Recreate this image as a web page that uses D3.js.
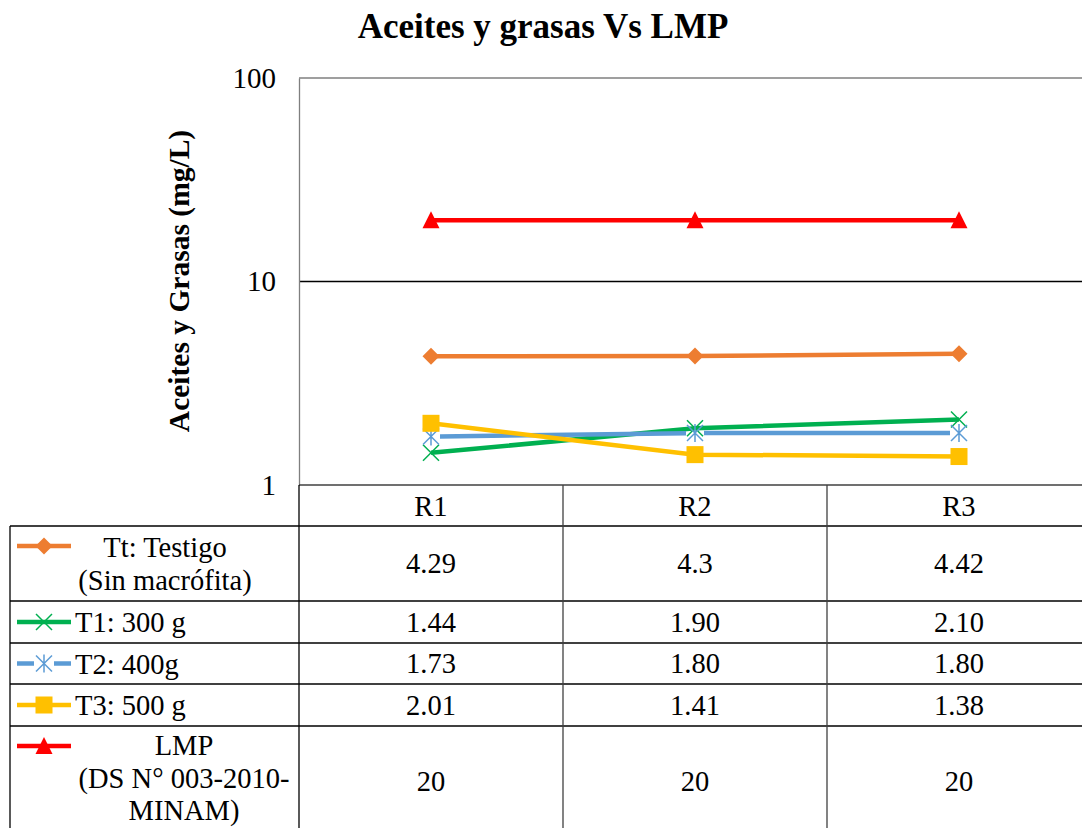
<!DOCTYPE html>
<html>
<head>
<meta charset="utf-8">
<script src="https://cdn.jsdelivr.net/npm/d3@7"></script>
<style>
  body { margin: 0; background: #fff; }
  svg { display: block; }
</style>
</head>
<body>
<svg id="chart"></svg>
<script>
// data
const categories = ['R1', 'R2', 'R3'];
const seriesNames = ['Tt', 'T1', 'T2', 'T3', 'LMP'];
const ttValues = [4.29, 4.3, 4.42];
const t1Values = [1.44, 1.90, 2.10];
const t2Values = [1.73, 1.80, 1.80];
const t3Values = [2.01, 1.41, 1.38];
const lmpValues = [20, 20, 20];
const yTicks = [1, 10, 100];

const legendLines = {
    Tt: ['Tt: Testigo', '(Sin macrófita)'],
    T1: ['T1: 300 g'],
    T2: ['T2: 400g'],
    T3: ['T3: 500 g'],
    LMP: ['LMP', '(DS N° 003-2010-', 'MINAM)']
};

const series = [
    {name: 'Tt', values: ttValues, color: '#ED7D31', marker: 'diamond', fixed: false},
    {name: 'T1', values: t1Values, color: '#00B050', marker: 'x', fixed: true},
    {name: 'T2', values: t2Values, color: '#5B9BD5', marker: 'star', fixed: true},
    {name: 'T3', values: t3Values, color: '#FFC000', marker: 'square', fixed: true},
    {name: 'LMP', values: lmpValues, color: '#FF0000', marker: 'triangle', fixed: false}
];

const FONT = '"Liberation Serif", "Times New Roman", serif';
const width = 1082, height = 828;
const plot = {left: 299, right: 1091, top: 78, bottom: 485};

const svg = d3.select('#chart').attr('width', width).attr('height', height)
    .attr('font-family', FONT);

const xscale = d3.scaleBand().domain(categories).range([plot.left, plot.right]);
const yscale = d3.scaleLog().domain([1, 100]).range([plot.bottom, plot.top]);
const cx = c => xscale(c) + xscale.bandwidth() / 2;

// title
svg.append('text')
    .attr('x', 543).attr('y', 38)
    .attr('text-anchor', 'middle')
    .attr('font-family', FONT).attr('font-size', 35).attr('font-weight', 'bold')
    .text('Aceites y grasas Vs LMP');

// y axis title
svg.append('text')
    .attr('transform', 'translate(189, 281) rotate(-90)')
    .attr('text-anchor', 'middle')
    .attr('font-family', FONT).attr('font-size', 29.5).attr('font-weight', 'bold')
    .text('Aceites y Grasas (mg/L)');

// plot frame + gridline
svg.append('line')
    .attr('x1', plot.left).attr('x2', plot.right)
    .attr('y1', yscale(100)).attr('y2', yscale(100))
    .attr('stroke', '#7f7f7f').attr('stroke-width', 1.3);
svg.append('line')
    .attr('x1', plot.left).attr('x2', plot.right)
    .attr('y1', yscale(10)).attr('y2', yscale(10))
    .attr('stroke', '#000').attr('stroke-width', 1.3);

const yaxis = d3.axisLeft(yscale).tickValues(yTicks).tickSize(0).tickPadding(23)
    .tickFormat(d3.format('d'));
const yaxisGroup = svg.append('g')
    .attr('transform', `translate(${plot.left}, 0)`)
    .call(yaxis);
yaxisGroup.attr('font-family', FONT).attr('font-size', 29);
yaxisGroup.select('.domain').attr('stroke', '#7f7f7f').attr('stroke-width', 1.3);
yaxisGroup.selectAll('text').attr('fill', '#000');

// markers
function drawMarker(g, type, color, x, y) {
    if (type === 'diamond') {
        g.append('path')
            .attr('d', `M${x},${y - 8.5}L${x + 8.5},${y}L${x},${y + 8.5}L${x - 8.5},${y}Z`)
            .attr('fill', color);
    } else if (type === 'square') {
        g.append('rect')
            .attr('x', x - 8.5).attr('y', y - 8.5).attr('width', 17).attr('height', 17)
            .attr('fill', color);
    } else if (type === 'triangle') {
        g.append('path')
            .attr('d', `M${x},${y - 9}L${x + 8.5},${y + 8}L${x - 8.5},${y + 8}Z`)
            .attr('fill', color);
    } else {
        const s = 8;
        const p = `M${x - s},${y - s}L${x + s},${y + s}M${x - s},${y + s}L${x + s},${y - s}` +
            (type === 'star' ? `M${x},${y - s - 1}L${x},${y + s + 1}` : '');
        g.append('path').attr('d', p)
            .attr('stroke', color).attr('stroke-width', 1.5).attr('fill', 'none');
    }
}

const line = d3.line()
    .x((d, i) => cx(categories[i]))
    .y(d => yscale(d));

series.forEach(s => {
    const g = svg.append('g');
    if (s.marker === 'star') {
        // line stops short of the thin asterisk markers
        const pts = s.values.map((v, i) => [cx(categories[i]), yscale(v)]);
        d3.pairs(pts).forEach(([a, b]) => {
            const dx = b[0] - a[0], dy = b[1] - a[1];
            const len = Math.hypot(dx, dy), gap = 9;
            g.append('line')
                .attr('x1', a[0] + dx / len * gap).attr('y1', a[1] + dy / len * gap)
                .attr('x2', b[0] - dx / len * gap).attr('y2', b[1] - dy / len * gap)
                .attr('stroke', s.color).attr('stroke-width', 4.5);
        });
    } else {
        g.append('path')
            .datum(s.values)
            .attr('d', line)
            .attr('fill', 'none')
            .attr('stroke', s.color)
            .attr('stroke-width', 4.5);
    }
    s.values.forEach((v, i) => {
        drawMarker(g, s.marker, s.color, cx(categories[i]), yscale(v));
    });
});

// data table
const tableLeft = 10;
const rowEdges = [485, 526, 601, 643, 684, 726, 836];
const table = svg.append('g').attr('font-family', FONT).attr('font-size', 28.5);

// horizontal lines
rowEdges.slice(0, -1).forEach((y, i) => {
    table.append('line')
        .attr('x1', i === 0 ? plot.left : tableLeft).attr('x2', plot.right)
        .attr('y1', y).attr('y2', y)
        .attr('stroke', i === 0 ? '#404040' : '#000').attr('stroke-width', 1.3);
});
// vertical lines
table.append('line')
    .attr('x1', tableLeft).attr('x2', tableLeft)
    .attr('y1', rowEdges[1]).attr('y2', height)
    .attr('stroke', '#000').attr('stroke-width', 1.3);
[plot.left, ...categories.slice(1).map(c => xscale(c))].forEach((x, i) => {
    table.append('line')
        .attr('x1', x).attr('x2', x)
        .attr('y1', rowEdges[0]).attr('y2', height)
        .attr('stroke', i === 0 ? '#000' : '#404040').attr('stroke-width', 1.3);
});

// header
categories.forEach(c => {
    table.append('text')
        .attr('x', cx(c))
        .attr('y', (rowEdges[0] + rowEdges[1]) / 2 + 10)
        .attr('text-anchor', 'middle')
        .text(c);
});

// legend column text placement (center x per row)
const legendCenters = {Tt: 165, LMP: 184};
const firstBaseline = {Tt: 557, LMP: 755};
const keyY = {Tt: 546, LMP: 746};
const lineGap = 32.5;

series.forEach((s, r) => {
    const top = rowEdges[r + 1], bottom = rowEdges[r + 2];
    const mid = (top + bottom) / 2;
    const lines = legendLines[s.name];

    // legend key
    const ky = lines.length > 1 ? keyY[s.name] : mid;
    const kg = table.append('g');
    kg.append('line')
        .attr('x1', 17).attr('x2', 71).attr('y1', ky).attr('y2', ky)
        .attr('stroke', s.color).attr('stroke-width', 4.5);
    if (s.marker === 'star') {
        kg.append('rect').attr('x', 34).attr('y', ky - 4).attr('width', 20).attr('height', 8).attr('fill', '#fff');
    }
    drawMarker(kg, s.marker, s.color, 44, ky);

    // legend label
    if (lines.length === 1) {
        table.append('text')
            .attr('x', 75).attr('y', mid + 10)
            .text(lines[0]);
    } else {
        lines.forEach((t, k) => {
            table.append('text')
                .attr('x', legendCenters[s.name])
                .attr('y', firstBaseline[s.name] + k * lineGap)
                .attr('text-anchor', 'middle')
                .text(t);
        });
    }

    // values
    s.values.forEach((v, i) => {
        table.append('text')
            .attr('x', cx(categories[i]))
            .attr('y', mid + 9.5)
            .attr('text-anchor', 'middle')
            .text(s.fixed ? v.toFixed(2) : String(v));
    });
});
</script>
</body>
</html>
